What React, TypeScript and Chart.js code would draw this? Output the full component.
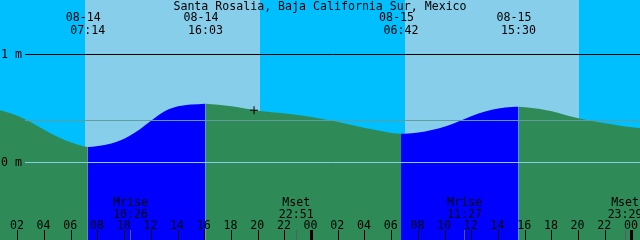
import React, { useEffect, useRef } from 'react';
import { Chart, registerables } from 'chart.js';

Chart.register(...registerables);

const TITLE = 'Santa Rosalia, Baja California Sur, Mexico';

// Tide curve (hours from 08-14 00:00, metres)
const TIDE_HOURS = [
  0, 1, 2, 3, 4, 5, 6, 7, 7.233, 8, 9, 10, 11, 12, 13, 14, 15, 16, 16.05, 17, 18, 19, 20, 21, 22, 23,
  24, 25, 26, 27, 28, 29, 30, 30.7, 31, 32, 33, 34, 35, 36, 37, 38, 39, 39.5, 40, 41, 42, 43, 44, 45,
  46, 47, 48, 49,
];
const TIDE_HEIGHTS = [
  0.502, 0.472, 0.431, 0.37, 0.301, 0.236, 0.185, 0.148, 0.143, 0.153, 0.176, 0.222, 0.296, 0.389,
  0.475, 0.52, 0.537, 0.544, 0.545, 0.535, 0.52, 0.5, 0.48, 0.465, 0.454, 0.44,
  0.421, 0.398, 0.375, 0.347, 0.319, 0.296, 0.273, 0.266, 0.267, 0.278, 0.301, 0.333, 0.38, 0.431,
  0.472, 0.5, 0.514, 0.516, 0.512, 0.498, 0.474, 0.44, 0.409, 0.384, 0.363, 0.343, 0.326, 0.31,
];

// Tide events
const EVENT_HOURS = [7.233, 16.05, 30.7, 39.5];
const EVENT_KINDS = ['low', 'high', 'low', 'high'];
const EVENT_DATES = ['08-14', '08-14', '08-15', '08-15'];
const EVENT_TIMES = ['07:14', '16:03', '06:42', '15:30'];

// Sun
const SUNRISE_HOURS = [7.027, 31.0];
const SUNSET_HOURS = [20.136, 44.03];

// Moon
const MOON_HOURS = [10.433, 22.85, 35.45, 47.483];
const MOON_LABELS = ['Mrise', 'Mset', 'Mrise', 'Mset'];
const MOON_TIMES = ['10:26', '22:51', '11:27', '23:29'];

// Time axis ticks
const TICK_HOURS = [2, 4, 6, 8, 10, 12, 14, 16, 18, 20, 22, 24, 26, 28, 30, 32, 34, 36, 38, 40, 42, 44, 46, 48];
const TICK_LABELS = ['02', '04', '06', '08', '10', '12', '14', '16', '18', '20', '22', '00',
  '02', '04', '06', '08', '10', '12', '14', '16', '18', '20', '22', '00'];

// Height lines
const LEVEL_VALUES = [1, 0];
const LEVEL_LABELS = ['1 m', '0 m'];
const MEAN_LEVEL = 0.389;

// Current time marker
const NOW_HOUR = 19.69;
const NOW_HEIGHT = 0.484;

const X_MIN = 0.66;
const X_MAX = 48.6;
const Y_MIN = -0.7176;
const Y_MAX = 1.5046;

const FONT = '11.6px "DejaVu Sans Mono"';
const NIGHT = '#00BFFF';
const DAY = '#87CEEB';
const EBB = '#2E8B57';
const FLOOD = '#0000FF';

const risingIntervals: [number, number][] = [];
EVENT_HOURS.forEach((h, i) => {
  if (EVENT_KINDS[i] === 'low' && i + 1 < EVENT_HOURS.length) risingIntervals.push([h, EVENT_HOURS[i + 1]]);
});

const decorPlugin = {
  id: 'decor',
  beforeDraw(chart: any) {
    const { ctx, width, height } = chart;
    const xs = chart.scales.x;
    ctx.save();
    ctx.fillStyle = NIGHT;
    ctx.fillRect(0, 0, width, height);
    ctx.fillStyle = DAY;
    SUNRISE_HOURS.forEach((r, i) => {
      const a = Math.round(xs.getPixelForValue(r));
      const b = Math.round(xs.getPixelForValue(SUNSET_HOURS[i]));
      ctx.fillRect(a, 0, b - a, height);
    });
    ctx.restore();
  },
  afterDatasetsDraw(chart: any) {
    const { ctx, width, height } = chart;
    const xs = chart.scales.x;
    const ys = chart.scales.y;
    ctx.save();
    const hline = (v: number, color: string) => {
      const y = Math.floor(ys.getPixelForValue(v)) + 0.5;
      ctx.strokeStyle = color;
      ctx.lineWidth = 1;
      ctx.beginPath();
      ctx.moveTo(25, y);
      ctx.lineTo(width, y);
      ctx.stroke();
    };
    hline(1, '#000000');
    hline(0, DAY);
    hline(MEAN_LEVEL, '#5F9EA0');

    ctx.font = FONT;
    ctx.fillStyle = '#000';
    ctx.textAlign = 'left';
    ctx.textBaseline = 'alphabetic';
    LEVEL_VALUES.forEach((v, i) => {
      const y = Math.floor(ys.getPixelForValue(v));
      ctx.fillText(LEVEL_LABELS[i], 1, y + 4);
    });

    ctx.textAlign = 'center';
    ctx.fillText(TITLE, width / 2, 10);
    EVENT_HOURS.forEach((h, i) => {
      const x = xs.getPixelForValue(h);
      ctx.fillText(EVENT_DATES[i], x - 4.5, 21);
      ctx.fillText(EVENT_TIMES[i], x, 34);
    });

    // moon ticks
    ctx.fillStyle = '#5a5a6a';
    MOON_HOURS.forEach((h) => {
      const x = Math.floor(xs.getPixelForValue(h));
      ctx.fillRect(x, 230, 1, height - 230);
    });
    ctx.fillStyle = '#000';
    MOON_HOURS.forEach((h, i) => {
      const x = xs.getPixelForValue(h);
      ctx.fillText(MOON_LABELS[i], x, 206);
      ctx.fillText(MOON_TIMES[i], x, 218);
    });

    TICK_HOURS.forEach((h, i) => {
      const px = xs.getPixelForValue(h);
      if (h % 24 === 0) {
        ctx.fillRect(Math.round(px) - 2, 230, 3, height - 230);
      } else {
        ctx.fillRect(Math.floor(px), 230, 1, height - 230);
      }
      ctx.fillText(TICK_LABELS[i], px - 1, 229);
    });
    ctx.restore();
  },
};

export default function App() {
  const ref = useRef<HTMLCanvasElement>(null);
  useEffect(() => {
    document.body.style.margin = '0';
    const canvas = ref.current;
    if (!canvas) return;
    const tide = TIDE_HOURS.map((h, i) => ({ x: h, y: TIDE_HEIGHTS[i] }));
    const chart = new Chart(canvas, {
      type: 'line',
      data: {
        datasets: [
          {
            type: 'scatter',
            data: [{ x: NOW_HOUR, y: NOW_HEIGHT }],
            pointStyle: 'cross',
            pointRadius: 4,
            pointBorderColor: '#000',
            pointBorderWidth: 1,
            borderColor: '#000',
            order: 0,
          } as any,
          {
            data: tide,
            borderWidth: 0,
            borderColor: 'rgba(0,0,0,0)',
            pointRadius: 0,
            fill: 'start',
            backgroundColor: EBB,
            cubicInterpolationMode: 'monotone',
            order: 1,
            segment: {
              backgroundColor: (c: any) => {
                const mid = (c.p0.parsed.x + c.p1.parsed.x) / 2;
                return risingIntervals.some(([a, b]) => mid >= a && mid <= b) ? FLOOD : EBB;
              },
            },
          } as any,
        ],
      },
      options: {
        responsive: false,
        devicePixelRatio: 1,
        animation: false,
        events: [],
        layout: { padding: 0, autoPadding: false },
        scales: {
          x: { type: 'linear', min: X_MIN, max: X_MAX, display: false },
          y: { type: 'linear', min: Y_MIN, max: Y_MAX, display: false },
        },
        plugins: {
          legend: { display: false },
          title: { display: false },
          tooltip: { enabled: false },
        },
      },
      plugins: [decorPlugin],
    });
    return () => chart.destroy();
  }, []);
  return <canvas ref={ref} width={640} height={240} style={{ display: 'block' }} />;
}
